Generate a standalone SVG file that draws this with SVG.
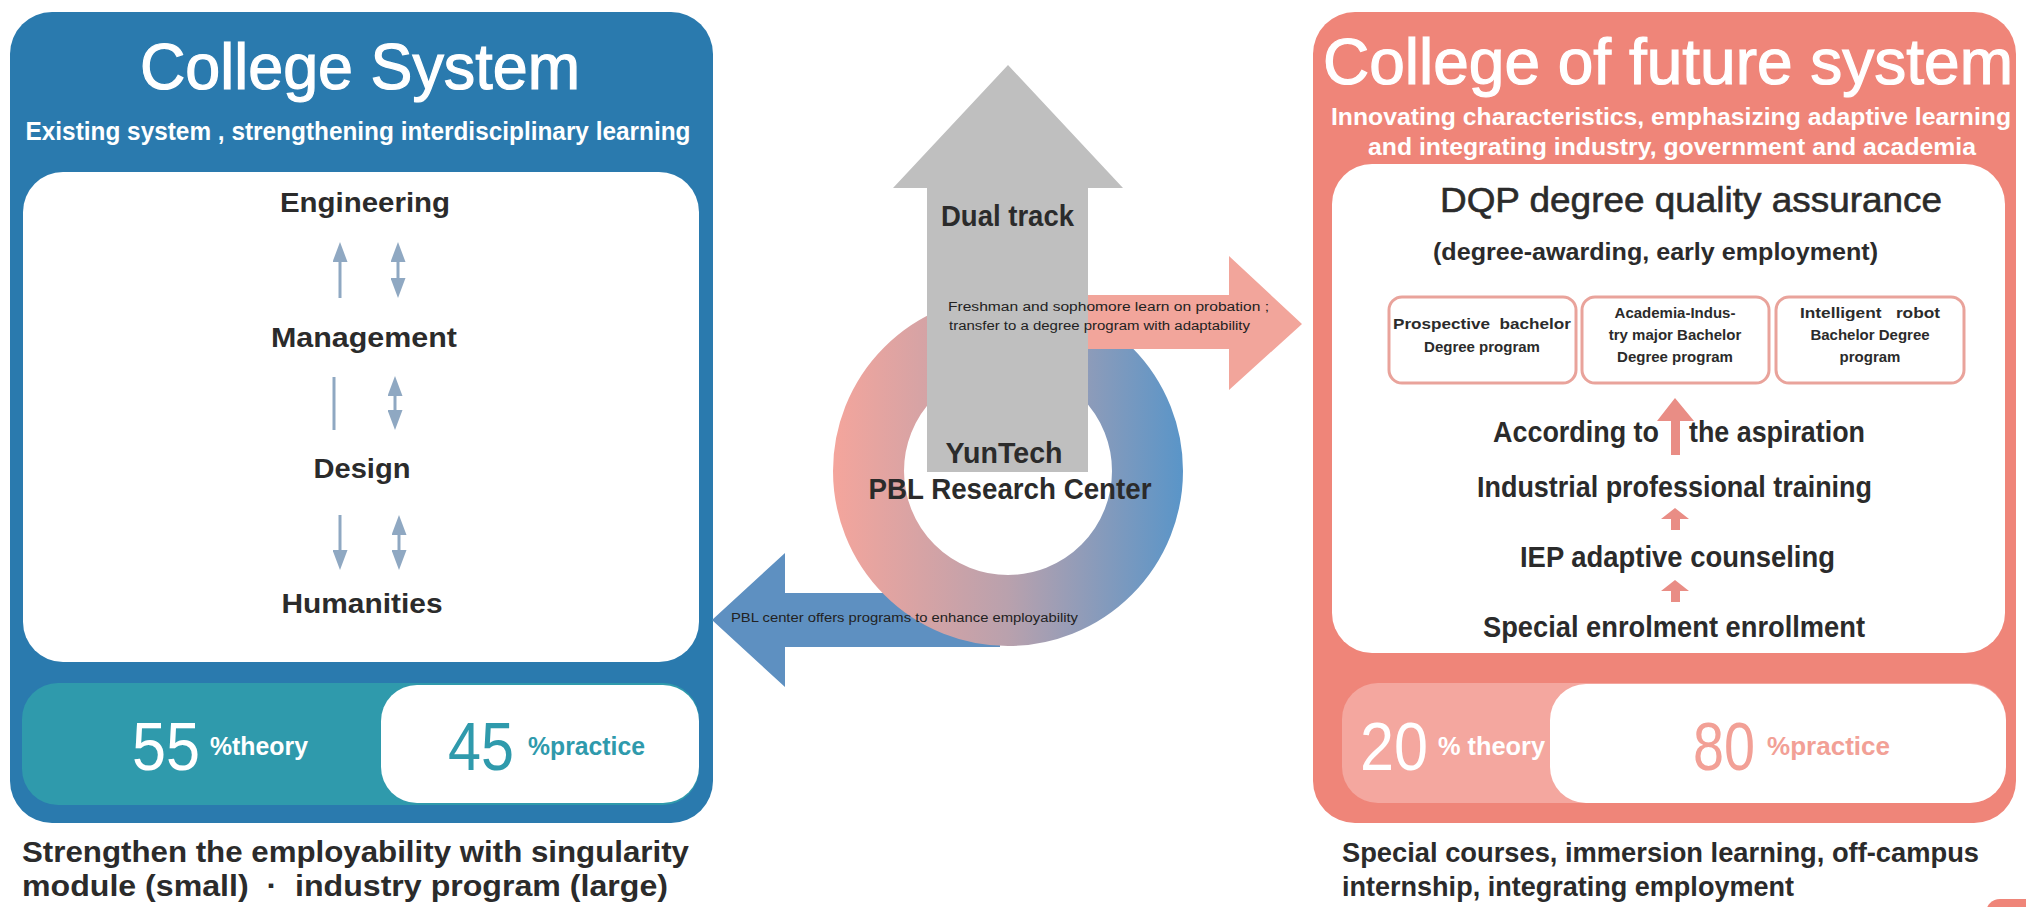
<svg xmlns="http://www.w3.org/2000/svg" width="2026" height="907" viewBox="0 0 2026 907">
<style>
text{font-family:"Liberation Sans",Arial,sans-serif}
.w{fill:#ffffff}
.d{fill:#2b2b2b}
.b{font-weight:bold}
.mid{text-anchor:middle}
.ttl{fill:#ffffff;stroke:#ffffff;stroke-width:1.2}
.sa{stroke:#8fa8c2;stroke-width:3;fill:none}
.pbox{fill:#ffffff;stroke:#e9a39b;stroke-width:3}
.pa{fill:#e98d85}
</style>
<defs>
<marker id="ah" viewBox="0 0 20 15" refX="10" refY="7.5" markerWidth="20" markerHeight="15" markerUnits="userSpaceOnUse" orient="auto-start-reverse">
<path d="M0,0 L20,7.5 L0,15 Z" fill="#8fa8c2"/>
</marker>
<linearGradient id="ring" gradientUnits="userSpaceOnUse" x1="834" y1="0" x2="1182" y2="0">
<stop offset="0" stop-color="#f4a59c"/>
<stop offset="0.5" stop-color="#b9a1ad"/>
<stop offset="1" stop-color="#5a95c8"/>
</linearGradient>
</defs>

<g id="college-system">
<rect x="10" y="12" width="703" height="811" rx="42" fill="#2a7aae"/>
<text class="ttl mid" x="360" y="89" font-size="64" textLength="440" lengthAdjust="spacingAndGlyphs">College System</text>
<text class="w b mid" x="358" y="140" font-size="25" textLength="665" lengthAdjust="spacingAndGlyphs">Existing system , strengthening interdisciplinary learning</text>
<rect x="23" y="172" width="676" height="490" rx="40" fill="#ffffff"/>
<text class="d b mid" x="365" y="212" font-size="27" textLength="170" lengthAdjust="spacingAndGlyphs">Engineering</text>
<text class="d b mid" x="364" y="347" font-size="27" textLength="186" lengthAdjust="spacingAndGlyphs">Management</text>
<text class="d b mid" x="362" y="478" font-size="27" textLength="97" lengthAdjust="spacingAndGlyphs">Design</text>
<text class="d b mid" x="362" y="613" font-size="27" textLength="161" lengthAdjust="spacingAndGlyphs">Humanities</text>
<rect x="22" y="683" width="677" height="122" rx="36" fill="#2f9aac"/>
<rect x="381" y="685" width="318" height="118" rx="36" fill="#ffffff"/>
<text class="w" x="132" y="770" font-size="68" textLength="68" lengthAdjust="spacingAndGlyphs">55</text>
<text class="w b" x="210" y="755" font-size="26" textLength="98" lengthAdjust="spacingAndGlyphs">%theory</text>
<text x="448" y="770" font-size="68" fill="#2f9aac" textLength="66" lengthAdjust="spacingAndGlyphs">45</text>
<text class="b" x="528" y="755" font-size="26" fill="#2f9aac" textLength="117" lengthAdjust="spacingAndGlyphs">%practice</text>
<text class="d b" x="22" y="862" font-size="29" textLength="667" lengthAdjust="spacingAndGlyphs">Strengthen the employability with singularity</text>
<text class="d b" x="22" y="896" font-size="29" textLength="646" lengthAdjust="spacingAndGlyphs">module (small)&#160;&#160;·&#160;&#160;industry program (large)</text>
</g>

<g id="college-future">
<rect x="1313" y="12" width="703" height="811" rx="42" fill="#ef8579"/>
<text class="ttl mid" x="1668" y="84" font-size="64" textLength="690" lengthAdjust="spacingAndGlyphs">College of future system</text>
<text class="w b mid" x="1671" y="125" font-size="24" textLength="680" lengthAdjust="spacingAndGlyphs">Innovating characteristics, emphasizing adaptive learning</text>
<text class="w b mid" x="1672" y="155" font-size="24" textLength="608" lengthAdjust="spacingAndGlyphs">and integrating industry, government and academia</text>
<rect x="1332" y="164" width="673" height="489" rx="40" fill="#ffffff"/>
<text class="d" x="1440" y="212" font-size="35" stroke="#2b2b2b" stroke-width="0.6" textLength="502" lengthAdjust="spacingAndGlyphs">DQP degree quality assurance</text>
<text class="d b" x="1433" y="260" font-size="24" textLength="445" lengthAdjust="spacingAndGlyphs">(degree-awarding, early employment)</text>
<text class="d b" x="1493" y="442" font-size="29" textLength="166" lengthAdjust="spacingAndGlyphs">According to</text>
<text class="d b" x="1689" y="442" font-size="29" textLength="176" lengthAdjust="spacingAndGlyphs">the aspiration</text>
<text class="d b" x="1477" y="497" font-size="29" textLength="395" lengthAdjust="spacingAndGlyphs">Industrial professional training</text>
<text class="d b" x="1520" y="567" font-size="29" textLength="315" lengthAdjust="spacingAndGlyphs">IEP adaptive counseling</text>
<text class="d b" x="1483" y="637" font-size="29" textLength="382" lengthAdjust="spacingAndGlyphs">Special enrolment enrollment</text>
<rect x="1342" y="683" width="664" height="120" rx="36" fill="#f4a79f"/>
<rect x="1550" y="684" width="456" height="119" rx="36" fill="#ffffff"/>
<text class="w" x="1360" y="770" font-size="68" textLength="68" lengthAdjust="spacingAndGlyphs">20</text>
<text class="w b" x="1438" y="755" font-size="26" textLength="107" lengthAdjust="spacingAndGlyphs">% theory</text>
<text x="1693" y="770" font-size="68" fill="#f2a096" textLength="62" lengthAdjust="spacingAndGlyphs">80</text>
<text class="b" x="1767" y="755" font-size="26" fill="#f2a096" textLength="123" lengthAdjust="spacingAndGlyphs">%practice</text>
<text class="d b" x="1342" y="862" font-size="28" textLength="637" lengthAdjust="spacingAndGlyphs">Special courses, immersion learning, off-campus</text>
<text class="d b" x="1342" y="896" font-size="28" textLength="452" lengthAdjust="spacingAndGlyphs">internship, integrating employment</text>
</g>

<g id="program-prospective">
<rect class="pbox" x="1389" y="297" width="187" height="86" rx="13"/>
<text class="d b mid" x="1482" y="329" font-size="15" textLength="178" lengthAdjust="spacingAndGlyphs">Prospective&#160;&#160;bachelor</text>
<text class="d b mid" x="1482" y="352" font-size="15">Degree program</text>
</g>
<g id="program-academia">
<rect class="pbox" x="1582" y="297" width="187" height="86" rx="13"/>
<text class="d b mid" x="1675" y="318" font-size="15">Academia-Indus-</text>
<text class="d b mid" x="1675" y="340" font-size="15">try major Bachelor</text>
<text class="d b mid" x="1675" y="362" font-size="15">Degree program</text>
</g>
<g id="program-robot">
<rect class="pbox" x="1776" y="297" width="188" height="86" rx="13"/>
<text class="d b mid" x="1870" y="318" font-size="15" textLength="140" lengthAdjust="spacingAndGlyphs">Intelligent&#160;&#160;&#160;robot</text>
<text class="d b mid" x="1870" y="340" font-size="15">Bachelor Degree</text>
<text class="d b mid" x="1870" y="362" font-size="15">program</text>
</g>

<g id="pbl-center">
<path d="M712,620 L785,553 L785,593 L1000,593 L1000,647 L785,647 L785,687 Z" fill="#5e90c1"/>
<circle cx="1008" cy="471" r="139.5" fill="none" stroke="url(#ring)" stroke-width="71"/>
<path d="M940,295 L1229,295 L1229,256 L1302,324 L1229,390 L1229,349 L940,349 Z" fill="#f2a59b"/>
<path d="M1008,65 L1123,188 L1088,188 L1088,472 L927,472 L927,188 L893,188 Z" fill="#bfbfbf"/>
<text class="d b" x="941" y="226" font-size="30" textLength="133" lengthAdjust="spacingAndGlyphs">Dual track</text>
<text fill="#222" x="948" y="311" font-size="12.5" textLength="321" lengthAdjust="spacingAndGlyphs">Freshman and sophomore learn on probation ;</text>
<text fill="#222" x="949" y="330" font-size="12.5" textLength="301" lengthAdjust="spacingAndGlyphs">transfer to a degree program with adaptability</text>
<text class="d b mid" x="1004" y="463" font-size="29" textLength="117" lengthAdjust="spacingAndGlyphs">YunTech</text>
<text class="d b mid" x="1010" y="499" font-size="29" textLength="283" lengthAdjust="spacingAndGlyphs">PBL Research Center</text>
<text fill="#222" x="731" y="622" font-size="12.5" textLength="347" lengthAdjust="spacingAndGlyphs">PBL center offers programs to enhance employability</text>
</g>

<g id="connectors">
<line class="sa" x1="340" y1="298" x2="340" y2="252" marker-end="url(#ah)"/>
<line class="sa" x1="398" y1="252" x2="398" y2="288" marker-start="url(#ah)" marker-end="url(#ah)"/>
<line class="sa" x1="334" y1="377" x2="334" y2="430"/>
<line class="sa" x1="395" y1="386" x2="395" y2="420" marker-start="url(#ah)" marker-end="url(#ah)"/>
<line class="sa" x1="340" y1="515" x2="340" y2="560" marker-end="url(#ah)"/>
<line class="sa" x1="399" y1="525" x2="399" y2="560" marker-start="url(#ah)" marker-end="url(#ah)"/>
<path class="pa" d="M1675,398 L1694,421 L1680,421 L1680,455 L1671,455 L1671,421 L1657,421 Z"/>
<path class="pa" d="M1675,508 L1689,519 L1680,519 L1680,530 L1671,530 L1671,519 L1661,519 Z"/>
<path class="pa" d="M1675,580 L1689,591 L1680,591 L1680,602 L1671,602 L1671,591 L1661,591 Z"/>
</g>

<rect id="corner-fragment" x="1986" y="899" width="60" height="30" rx="14" fill="#ef8579"/>
</svg>
